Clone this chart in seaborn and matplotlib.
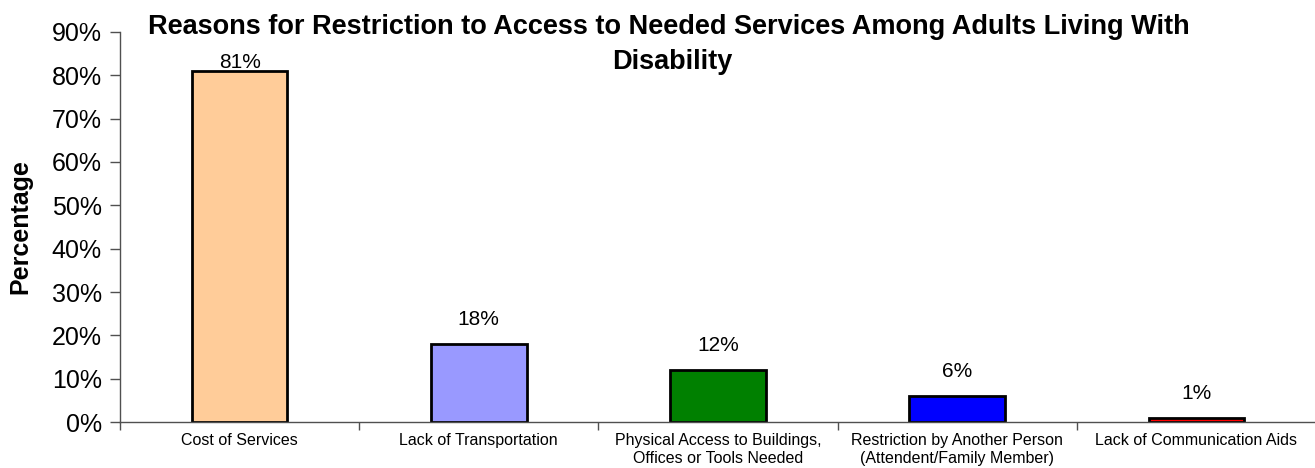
import matplotlib
matplotlib.use("Agg")
import matplotlib.pyplot as plt
import seaborn as sns
import pandas as pd
import numpy as np

reasons = [
    "Cost of Services",
    "Lack of Transportation",
    "Physical Access to Buildings,\nOffices or Tools Needed",
    "Restriction by Another Person\n(Attendent/Family Member)",
    "Lack of Communication Aids",
]
pct = [0.81, 0.18, 0.12, 0.06, 0.01]
bar_colors = ["#FFCC99", "#9999FF", "#008000", "#0000FF", "#FF0000"]
title_lines = ["Reasons for Restriction to Access to Needed Services Among Adults Living With",
               "Disability"]

df = pd.DataFrame({"reason": reasons, "pct": pct})

sns.set_style("white")
plt.rcParams["font.family"] = ["Liberation Sans", "DejaVu Sans"]
plt.rcParams["text.color"] = "black"
plt.rcParams["xtick.color"] = "black"
plt.rcParams["ytick.color"] = "black"
plt.rcParams["axes.labelcolor"] = "black"

fig = plt.figure(figsize=(13.15, 4.68), dpi=100)
ax = fig.add_axes([120 / 1315, 46 / 468, 1196 / 1315, 390 / 468])

sns.barplot(data=df, x="reason", y="pct", hue="reason", palette=bar_colors,
            legend=False, width=0.4, edgecolor="black", linewidth=2,
            saturation=1, ax=ax)

# percentage labels above bars (kept inside the plot area like the original)
for i, v in enumerate(pct):
    ax.text(i, min(v + 0.056, 0.83), f"{v:.0%}", ha="center", va="center",
            fontsize=15)

ax.set_xlim(-0.5, len(reasons) - 0.5)
ax.set_ylim(0, 0.9)
yt = np.arange(0, 0.91, 0.1)
ax.set_yticks(yt)
ax.set_yticklabels([f"{int(round(t * 100))}%" for t in yt], fontsize=18)
ax.tick_params(axis="y", length=7, width=1, color="#505050", pad=6, left=True,
               labelcolor="black")

ax.set_xticks(range(len(reasons)))
ax.set_xticklabels(reasons, fontsize=11.5)
ax.set_xticks(np.arange(-0.5, len(reasons)), minor=True)
ax.tick_params(axis="x", which="major", length=0, pad=8, labelcolor="black")
ax.tick_params(axis="x", which="minor", length=6, width=1, color="#505050", bottom=True)

ax.set_xlabel("")
ax.set_ylabel("Percentage", fontsize=18, fontweight="bold", labelpad=14)

for s in ["top", "right"]:
    ax.spines[s].set_visible(False)
for s in ["left", "bottom"]:
    ax.spines[s].set_color("#505050")
    ax.spines[s].set_linewidth(1)

fig.text(669 / 1315, 1 - 27 / 468, title_lines[0], ha="center", va="center",
         fontsize=19.5, fontweight="bold")
fig.text(672 / 1315, 1 - 62 / 468, title_lines[1], ha="center", va="center",
         fontsize=19.5, fontweight="bold")

fig.savefig("out.png", dpi=100)
